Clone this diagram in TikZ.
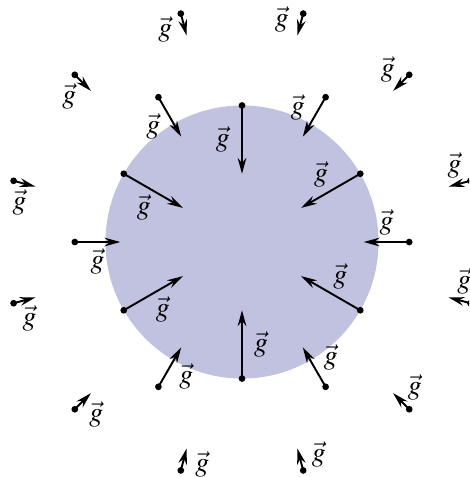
\documentclass[tikz,border=0pt]{standalone}
\usepackage{mathptmx}
\usepackage{xcolor}
\usepackage{tikz}
\usetikzlibrary{arrows.meta}

\definecolor{massfill}{RGB}{193,193,224}

\begin{document}
\begin{tikzpicture}[
    gvec/.style={
        -{Stealth[length=6.6pt,width=3.6pt]},
        thick,
        draw=black
    },
    gdot/.style={
        circle,
        fill=black,
        inner sep=0pt,
        minimum size=2.8pt
    },
    glabel/.style={
        inner sep=0pt,
        font=\fontsize{11.5}{14}\selectfont
    }
]

% Frame
\coordinate (lowleft) at (-3.545,-3.442);
\coordinate (upright) at (3.325,3.545);
\useasboundingbox (lowleft) rectangle (upright);
\clip (lowleft) rectangle (upright);

% Mass
\fill[massfill] (0,0) circle (2);

% Field vectors, length falls off as 1/r^2
\foreach \r/\first/\second in {2/30/90, 2.449/0/60, 3.464/15/45} {
    \pgfmathsetmacro\rend{\r-4/(\r*\r)}
    \foreach \a in {\first,\second,...,359} {
        \coordinate (start) at (\a:\r);
        \coordinate (end) at (\a:\rend);
        \draw[gvec] (start) -- (end)
            node[glabel, midway, shift={(\a+90:0.28)}] {$\vec{g}$};
        \node[gdot] (dot) at (start) {};
    }
}

\end{tikzpicture}
\end{document}
